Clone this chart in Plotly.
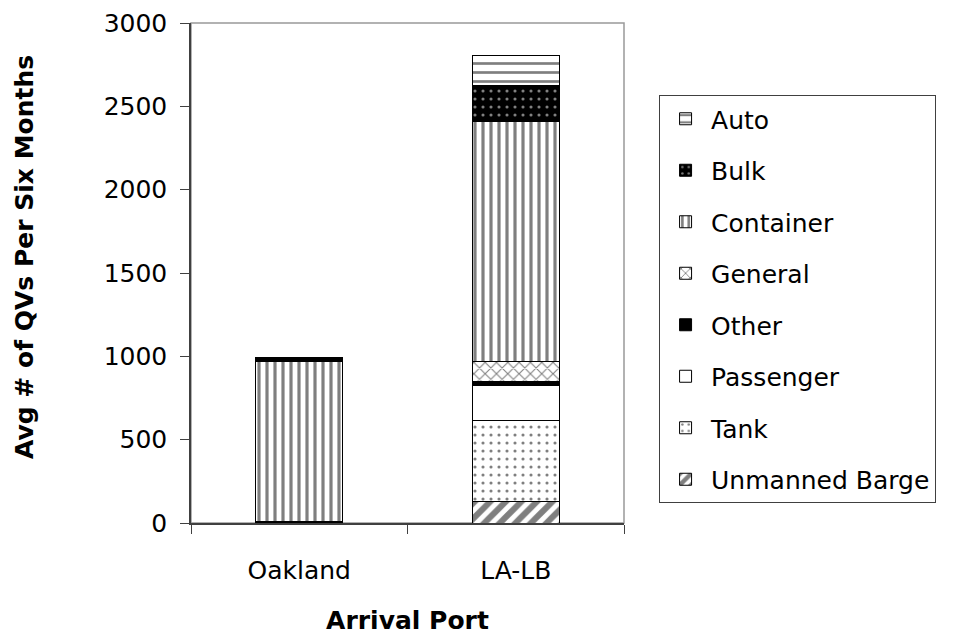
import plotly.graph_objects as go

ports = ["Oakland", "LA-LB"]
series_names = ["Unmanned Barge", "Tank", "Passenger", "Other", "General", "Container", "Bulk", "Auto"]
unmanned_barge = [0, 127]
tank = [4, 490]
passenger = [0, 208]
other = [0, 22]
general = [8, 120]
container = [955, 1443]
bulk = [28, 218]
auto = [0, 178]
y_ticks = [0, 500, 1000, 1500, 2000, 2500, 3000]

values = [unmanned_barge, tank, passenger, other, general, container, bulk, auto]

styles = {
    "Unmanned Barge": dict(color="white", pattern=dict(shape="/", fgcolor="black", bgcolor="white", size=11, solidity=0.55)),
    "Tank": dict(color="white", pattern=dict(shape=".", fgcolor="black", bgcolor="white", size=8, solidity=0.12)),
    "Passenger": dict(color="white"),
    "Other": dict(color="black"),
    "General": dict(color="white", pattern=dict(shape="x", fgcolor="black", bgcolor="white", size=8, solidity=0.25)),
    "Container": dict(color="white", pattern=dict(shape="|", fgcolor="black", bgcolor="white", size=8, solidity=0.4)),
    "Bulk": dict(color="black", pattern=dict(shape=".", fgcolor="white", bgcolor="black", size=8, solidity=0.12)),
    "Auto": dict(color="white", pattern=dict(shape="-", fgcolor="black", bgcolor="white", size=9, solidity=0.3)),
}

n = len(series_names)
fig = go.Figure()
for i, (name, vals) in enumerate(zip(series_names, values)):
    st = styles[name]
    marker = dict(color=st["color"], line=dict(color="black", width=1))
    if "pattern" in st:
        marker["pattern"] = st["pattern"]
    fig.add_trace(go.Bar(x=ports, y=vals, name=name, marker=marker,
                         legendgroup=name, legendrank=n - i))

font_family = "DejaVu Sans, Arial, sans-serif"
FS = 25
T, B = 15, 116
H = 631
plot_h = H - T - B
fig.update_layout(
    barmode="stack",
    bargap=0.6,
    width=971, height=H,
    margin=dict(l=183, r=355, t=T, b=B, autoexpand=False),
    plot_bgcolor="white", paper_bgcolor="white",
    font=dict(family=font_family, size=FS, color="black"),
    showlegend=True,
    legend=dict(
        x=1.081, y=(515 - 87) / plot_h, xanchor="left", yanchor="top",
        traceorder="grouped", tracegroupgap=16,
        bordercolor="#404040", borderwidth=1,
        font=dict(family=font_family, size=FS, color="black"),
        itemwidth=41,
    ),
    xaxis=dict(
        showline=True, linecolor="#404040", linewidth=1.5,
        ticks="outside", ticklen=9, tickcolor="#404040", tickson="boundaries",
        ticklabelstandoff=24,
        title=dict(text="<b>Arrival Port</b>", font=dict(size=FS), standoff=28),
        showgrid=False, automargin=False,
    ),
    yaxis=dict(
        range=[0, 3000], tickvals=y_ticks,
        showline=True, linecolor="#404040", linewidth=1.5,
        ticks="outside", ticklen=9, tickcolor="#404040",
        ticklabelstandoff=8, ticklabeloverflow="allow",
        showgrid=False, zeroline=False, automargin=False,
    ),
    annotations=[dict(text="<b>Avg # of QVs Per Six Months</b>", textangle=-90,
                      xref="paper", yref="paper", x=0, xshift=-167, xanchor="center",
                      y=(515 - 249) / plot_h, yanchor="middle", showarrow=False,
                      font=dict(family=font_family, size=FS, color="black"))],
    shapes=[dict(type="rect", xref="paper", yref="paper", x0=0, x1=1, y0=0, y1=1,
                 line=dict(color="#999999", width=1.5), layer="below")],
)

fig.write_html("out.html")
